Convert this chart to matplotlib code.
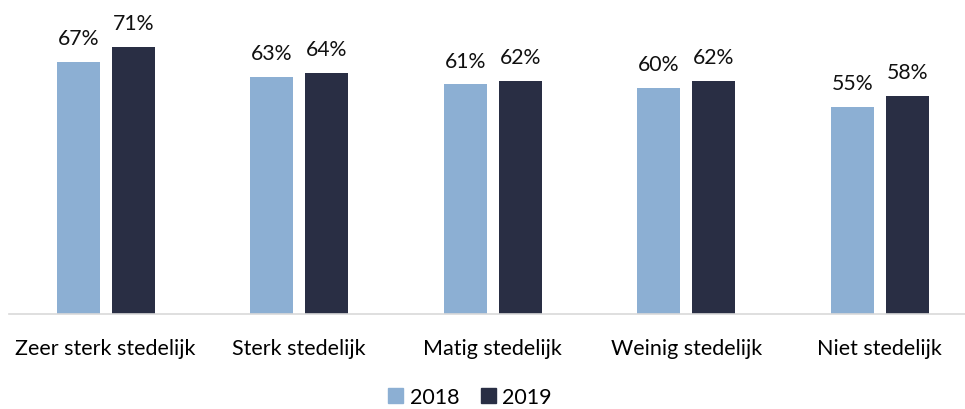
import numpy as np
import matplotlib.pyplot as plt
from matplotlib.patches import Patch

categories = ["Zeer sterk stedelijk", "Sterk stedelijk", "Matig stedelijk",
              "Weinig stedelijk", "Niet stedelijk"]
years = ["2018", "2019"]
values_2018 = [67, 63, 61, 60, 55]
values_2019 = [71, 64, 62, 62, 58]

colors = ["#8CAFD3", "#292E44"]

plt.rcParams["font.family"] = ["Lato", "DejaVu Sans"]

fig = plt.figure(figsize=(9.65, 4.1), dpi=100)
ax = fig.add_axes([9 / 965, 95 / 410, 956 / 965, 301 / 410])

x = np.arange(len(categories))
w = 0.222
off = 0.142
for vals, dx, c in [(values_2018, -off, colors[0]), (values_2019, off, colors[1])]:
    bars = ax.bar(x + dx, vals, width=w, color=c)
    for b, v in zip(bars, vals):
        ax.annotate(f"{v}%", (b.get_x() + b.get_width() / 2, v),
                    xytext=(0, 10), textcoords="offset points",
                    ha="center", va="bottom", fontsize=15.3, color="#111111",
                    annotation_clip=False)

ax.set_xlim(-0.5, -0.5 + 956 / 193.5)
ax.set_ylim(0, 80)
ax.set_yticks([])
ax.set_xticks(x)
ax.set_xticklabels(categories, fontsize=15.5)
ax.tick_params(axis="x", length=0, pad=17)
for s in ["top", "right", "left"]:
    ax.spines[s].set_visible(False)
ax.spines["bottom"].set_color("#D9D9D9")
ax.spines["bottom"].set_linewidth(1.2)

handles = [Patch(color=c, label=y) for c, y in zip(colors, years)]
fig.legend(handles=handles, loc="center", bbox_to_anchor=(470 / 965, 1 - 398 / 410),
           ncol=2, frameon=False, fontsize=15.5, handlelength=0.7, handleheight=0.7,
           handletextpad=0.3, columnspacing=1.0)

fig.savefig("out.png", dpi=100)
